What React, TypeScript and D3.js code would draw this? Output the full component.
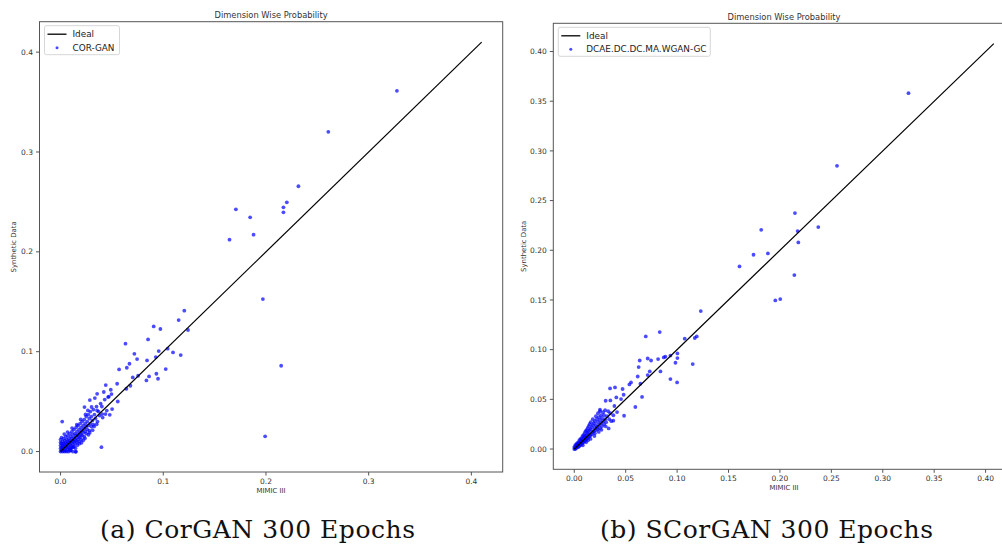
import React from "react";
import * as d3 from "d3";

type Pt = [number, number];

// ---- Data ----
const titleText = "Dimension Wise Probability";
const xLabelText = "MIMIC III";
const yLabelText = "Synthetic Data";
const captionA = "(a) CorGAN 300 Epochs";
const captionB = "(b) SCorGAN 300 Epochs";
const legendA = "COR-GAN";
const legendB = "DCAE.DC.DC.MA.WGAN-GC";

const ticksA = [0.0, 0.1, 0.2, 0.3, 0.4];
const ticksB = [0.0, 0.05, 0.1, 0.15, 0.2, 0.25, 0.3, 0.35, 0.4];
const idealA: Pt[] = [[0, 0], [0.41, 0.41]];
const idealB: Pt[] = [[0, 0], [0.408, 0.408]];
const domainA: [number, number] = [-0.0205, 0.4305];
const domainB: [number, number] = [-0.0204, 0.4284];

const corganOutliers: Pt[] = [
  [0.3275, 0.3613], [0.2607, 0.3202], [0.2316, 0.2657], [0.2203, 0.2496], [0.217, 0.2446],
  [0.217, 0.2396], [0.1707, 0.2426], [0.1846, 0.2346], [0.1879, 0.2172], [0.1645, 0.2122],
  [0.197, 0.1527], [0.2148, 0.0859], [0.1992, 0.0152],
];
const corganMid: Pt[] = [
  [0.1205, 0.1411], [0.115, 0.1317], [0.1241, 0.1217], [0.0907, 0.1253], [0.0972, 0.1227],
  [0.0852, 0.1123], [0.0632, 0.108], [0.1043, 0.103], [0.0956, 0.1006], [0.1095, 0.0993],
  [0.117, 0.0966], [0.0719, 0.0979], [0.0927, 0.0946], [0.0745, 0.0926], [0.0842, 0.0912],
  [0.0671, 0.0879], [0.0645, 0.0839], [0.057, 0.0822], [0.1024, 0.0826], [0.0933, 0.0779],
  [0.0862, 0.0752], [0.0949, 0.0729], [0.0836, 0.0712], [0.0755, 0.0759], [0.0703, 0.0742],
  [0.068, 0.0659], [0.0641, 0.0629], [0.0551, 0.0679], [0.0489, 0.0619], [0.044, 0.0666],
  [0.0421, 0.0596], [0.0496, 0.0575], [0.0463, 0.0545], [0.0356, 0.0578], [0.0334, 0.0535],
  [0.0285, 0.0515], [0.0233, 0.0445], [0.0557, 0.0501], [0.0502, 0.0425], [0.0479, 0.0368],
  [0.0437, 0.0375], [0.0405, 0.0375], [0.0402, 0.0451], [0.0356, 0.0411], [0.0016, 0.03],
  [0.0398, 0.0044], [0.0146, -0.0003],
];
const corganCluster: Pt[] = [
  [0.0, 0.0], [0.0, 0.003], [0.0, 0.006], [0.0, 0.009], [0.0, 0.012], [0.001, 0.001], [0.001, 0.004],
  [0.001, 0.008], [0.001, 0.014], [0.002, 0.0], [0.002, 0.003], [0.002, 0.006], [0.002, 0.01],
  [0.003, 0.001], [0.003, 0.005], [0.003, 0.008], [0.003, 0.013], [0.004, 0.0], [0.004, 0.003],
  [0.004, 0.007], [0.004, 0.011], [0.005, 0.001], [0.005, 0.005], [0.005, 0.009], [0.005, 0.015],
  [0.006, 0.0], [0.006, 0.004], [0.006, 0.008], [0.006, 0.012], [0.007, 0.002], [0.007, 0.006],
  [0.007, 0.01], [0.007, 0.016], [0.008, 0.0], [0.008, 0.004], [0.008, 0.009], [0.008, 0.013],
  [0.009, 0.003], [0.009, 0.007], [0.009, 0.011], [0.009, 0.018], [0.01, 0.001], [0.01, 0.006],
  [0.01, 0.01], [0.01, 0.015], [0.011, 0.004], [0.011, 0.009], [0.011, 0.013], [0.011, 0.02],
  [0.012, 0.0], [0.012, 0.007], [0.012, 0.011], [0.012, 0.017], [0.013, 0.005], [0.013, 0.01],
  [0.013, 0.014], [0.013, 0.022], [0.014, 0.008], [0.014, 0.012], [0.014, 0.018], [0.015, 0.0],
  [0.015, 0.011], [0.015, 0.016], [0.015, 0.024], [0.016, 0.009], [0.016, 0.014], [0.016, 0.02],
  [0.017, 0.012], [0.017, 0.017], [0.017, 0.026], [0.018, 0.01], [0.018, 0.015], [0.018, 0.022],
  [0.019, 0.014], [0.019, 0.019], [0.019, 0.028], [0.02, 0.012], [0.02, 0.017], [0.02, 0.024],
  [0.021, 0.016], [0.021, 0.021], [0.021, 0.03], [0.022, 0.019], [0.022, 0.026], [0.023, 0.015],
  [0.023, 0.023], [0.023, 0.032], [0.024, 0.02], [0.024, 0.028], [0.025, 0.018], [0.025, 0.025],
  [0.025, 0.035], [0.026, 0.022], [0.026, 0.03], [0.027, 0.026], [0.027, 0.037], [0.028, 0.021],
  [0.028, 0.033], [0.029, 0.028], [0.029, 0.04], [0.03, 0.025], [0.03, 0.035], [0.031, 0.031],
  [0.032, 0.042], [0.032, 0.027], [0.033, 0.037], [0.034, 0.033], [0.035, 0.045], [0.036, 0.03],
  [0.037, 0.04], [0.038, 0.036], [0.039, 0.048], [0.041, 0.034], [0.043, 0.052], [0.045, 0.041],
  [0.047, 0.055], [0.0125, 0.0045], [0.0163, 0.0062], [0.0204, 0.0088], [0.0238, 0.0132],
  [0.0272, 0.0168], [0.0312, 0.0214], [0.0327, 0.0251], [0.0352, 0.0273], [0.0221, 0.0113],
  [0.0183, 0.0079], [0.0284, 0.0189], [0.0145, 0.0032], [0.0105, 0.0035], [0.0093, 0.0014],
  [0.0036, 0.0175], [0.0068, 0.0195], [0.0112, 0.0235], [0.0158, 0.0268], [0.0196, 0.0322],
  [0.0243, 0.0371], [0.0266, 0.0412], [0.0302, 0.0446],
];

const scorganOutliers: Pt[] = [
  [0.325, 0.3581], [0.2555, 0.285], [0.2146, 0.2374], [0.1818, 0.2206], [0.2172, 0.2193],
  [0.2373, 0.2233], [0.2179, 0.2079], [0.1743, 0.1955], [0.1883, 0.1968], [0.1607, 0.1837],
  [0.214, 0.175], [0.1955, 0.1495], [0.2003, 0.1509],
];
const scorganMid: Pt[] = [
  [0.123, 0.1388], [0.0695, 0.1133], [0.0831, 0.1177], [0.1074, 0.111], [0.1191, 0.1133],
  [0.1172, 0.1117], [0.1003, 0.0962], [0.1003, 0.0915], [0.0984, 0.0868], [0.1152, 0.0855],
  [0.0935, 0.094], [0.0886, 0.0929], [0.087, 0.0922], [0.0815, 0.0905], [0.0747, 0.0891],
  [0.0714, 0.0911], [0.0636, 0.0891], [0.0626, 0.0825], [0.0734, 0.0781], [0.0838, 0.0781],
  [0.0617, 0.073], [0.0714, 0.0744], [0.0935, 0.0704], [0.1, 0.067], [0.0643, 0.0657],
  [0.0552, 0.067], [0.0536, 0.065], [0.0348, 0.061], [0.0396, 0.062], [0.047, 0.0604],
  [0.048, 0.0546], [0.0409, 0.0519], [0.0455, 0.0503], [0.0351, 0.0489], [0.0305, 0.0486],
  [0.039, 0.0433], [0.0659, 0.0524], [0.0594, 0.0423], [0.0484, 0.0335], [0.0416, 0.0372],
  [0.038, 0.0285], [0.0334, 0.0207], [0.025, 0.0395],
];
const scorganCluster: Pt[] = [
  [0.0, 0.0], [0.0, 0.002], [0.001, 0.0], [0.001, 0.002], [0.001, 0.004], [0.002, 0.001],
  [0.002, 0.003], [0.002, 0.005], [0.003, 0.002], [0.003, 0.004], [0.003, 0.006], [0.004, 0.002],
  [0.004, 0.005], [0.004, 0.007], [0.005, 0.003], [0.005, 0.006], [0.005, 0.009], [0.006, 0.004],
  [0.006, 0.007], [0.006, 0.01], [0.007, 0.005], [0.007, 0.008], [0.007, 0.011], [0.008, 0.006],
  [0.008, 0.009], [0.008, 0.013], [0.009, 0.007], [0.009, 0.011], [0.009, 0.014], [0.01, 0.008],
  [0.01, 0.012], [0.01, 0.016], [0.011, 0.009], [0.011, 0.013], [0.011, 0.018], [0.012, 0.01],
  [0.012, 0.014], [0.012, 0.019], [0.013, 0.011], [0.013, 0.016], [0.013, 0.021], [0.014, 0.012],
  [0.014, 0.017], [0.014, 0.023], [0.015, 0.013], [0.015, 0.019], [0.015, 0.025], [0.016, 0.014],
  [0.016, 0.02], [0.016, 0.027], [0.017, 0.015], [0.017, 0.022], [0.018, 0.017], [0.018, 0.024],
  [0.018, 0.03], [0.019, 0.018], [0.019, 0.026], [0.02, 0.016], [0.02, 0.021], [0.02, 0.028],
  [0.021, 0.019], [0.021, 0.024], [0.021, 0.033], [0.022, 0.022], [0.022, 0.03], [0.023, 0.02],
  [0.023, 0.027], [0.023, 0.036], [0.024, 0.024], [0.024, 0.032], [0.025, 0.021], [0.025, 0.029],
  [0.025, 0.038], [0.026, 0.026], [0.026, 0.034], [0.027, 0.023], [0.027, 0.031], [0.028, 0.028],
  [0.028, 0.037], [0.029, 0.025], [0.029, 0.034], [0.03, 0.03], [0.03, 0.039], [0.031, 0.027],
  [0.032, 0.033], [0.033, 0.038], [0.034, 0.03], [0.035, 0.036], [0.036, 0.028], [0.038, 0.034],
  [0.0115, 0.0068], [0.0158, 0.0102], [0.0196, 0.0131], [0.0238, 0.0172], [0.0083, 0.0038],
  [0.0264, 0.0193], [0.0305, 0.0228], [0.0134, 0.0088],
];

const SANS = "DejaVu Sans";

type PanelProps = {
  box: { left: number; right: number; top: number; bottom: number };
  domain: [number, number];
  ticks: number[];
  fmt: string;
  ideal: Pt[];
  points: Pt[];
  legendLabel: string;
  legendW: number;
  ylabelX: number;
  titleY: number;
};

function Panel(p: PanelProps) {
  const { box } = p;
  const x = d3.scaleLinear().domain(p.domain).range([box.left, box.right]);
  const y = d3.scaleLinear().domain(p.domain).range([box.bottom, box.top]);
  const f = d3.format(p.fmt);
  const line = d3.line<Pt>().x((d) => x(d[0])).y((d) => y(d[1]));
  const cx = (box.left + box.right) / 2;
  const cy = (box.top + box.bottom) / 2;
  const lgX = box.left + 5;
  const lgY = box.top + 4;
  return (
    <g>
      {p.points.map((d, i) => (
        <circle key={i} cx={x(d[0])} cy={y(d[1])} r={1.9} fill="#0000ff" fillOpacity={0.7} />
      ))}
      <path d={line(p.ideal) || ""} stroke="#000" strokeWidth={1.2} fill="none" />
      <rect
        x={box.left}
        y={box.top}
        width={box.right - box.left}
        height={box.bottom - box.top}
        fill="none"
        stroke="#555"
        strokeWidth={1}
      />
      {p.ticks.map((t) => (
        <g key={"x" + t}>
          <line x1={x(t)} x2={x(t)} y1={box.bottom} y2={box.bottom + 3.5} stroke="#555" />
          <text x={x(t)} y={box.bottom + 11.5} fontSize={7.5} fontFamily={SANS} fill="#333" textAnchor="middle">
            {f(t)}
          </text>
        </g>
      ))}
      {p.ticks.map((t) => (
        <g key={"y" + t}>
          <line x1={box.left - 3.5} x2={box.left} y1={y(t)} y2={y(t)} stroke="#555" />
          <text
            x={box.left - 6.5}
            y={y(t)}
            dy="0.35em"
            fontSize={7.5}
            fontFamily={SANS}
            fill="#333"
            textAnchor="end"
          >
            {f(t)}
          </text>
        </g>
      ))}
      <text x={cx} y={p.titleY} fontSize={8.3} fontFamily={SANS} fill="#333" textAnchor="middle">
        {titleText}
      </text>
      <text x={cx} y={box.bottom + 20.5} fontSize={6.9} fontFamily={SANS} fill="#333" textAnchor="middle">
        {xLabelText}
      </text>
      <text
        transform={`translate(${p.ylabelX},${cy}) rotate(-90)`}
        dy="0.35em"
        fontSize={6.9}
        fontFamily={SANS}
        fill="#333"
        textAnchor="middle"
      >
        {yLabelText}
      </text>
      <rect x={lgX} y={lgY} width={p.legendW} height={29} rx={2} fill="#fff" fillOpacity={0.8} stroke="#ccc" strokeWidth={0.8} />
      <line x1={lgX + 3} x2={lgX + 22} y1={lgY + 8.5} y2={lgY + 8.5} stroke="#000" strokeWidth={1.3} />
      <text x={lgX + 28} y={lgY + 8.5} dy="0.35em" fontSize={8.85} fontFamily={SANS} fill="#222">
        Ideal
      </text>
      <circle cx={lgX + 12.5} cy={lgY + 22} r={1.5} fill="#0000ff" fillOpacity={0.7} />
      <text x={lgX + 28} y={lgY + 22} dy="0.35em" fontSize={8.85} fontFamily={SANS} fill="#222">
        {p.legendLabel}
      </text>
    </g>
  );
}

export default function App() {
  const pointsA = [...corganCluster, ...corganMid, ...corganOutliers];
  const pointsB = [...scorganCluster, ...scorganMid, ...scorganOutliers];
  return (
    <div style={{ position: "absolute", left: 0, top: 0 }}>
      <svg width={1002} height={544} style={{ display: "block", background: "#fff" }}>
        <Panel
          box={{ left: 39.5, right: 502.7, top: 21.7, bottom: 472 }}
          domain={domainA}
          ticks={ticksA}
          fmt=".1f"
          ideal={idealA}
          points={pointsA}
          legendLabel={legendA}
          legendW={75}
          ylabelX={14}
          titleY={18}
        />
        <Panel
          box={{ left: 553.3, right: 1014.8, top: 23.3, bottom: 469.3 }}
          domain={domainB}
          ticks={ticksB}
          fmt=".2f"
          ideal={idealB}
          points={pointsB}
          legendLabel={legendB}
          legendW={152}
          ylabelX={524}
          titleY={19.5}
        />
        <text x={257.5} y={538} fontSize={25} fontFamily="DejaVu Serif" fill="#111" textAnchor="middle" textLength={315}>
          {captionA}
        </text>
        <text x={766.5} y={538} fontSize={25} fontFamily="DejaVu Serif" fill="#111" textAnchor="middle" textLength={333}>
          {captionB}
        </text>
      </svg>
    </div>
  );
}
